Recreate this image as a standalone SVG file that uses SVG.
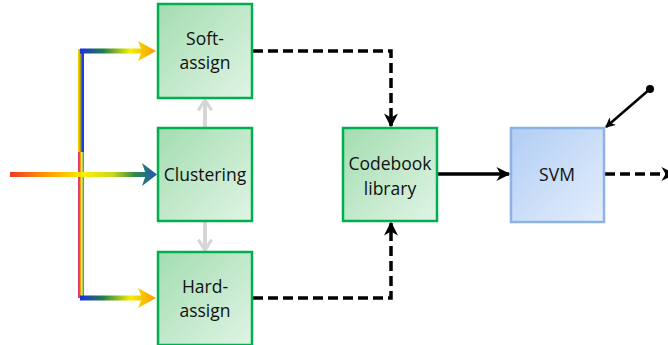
<svg xmlns="http://www.w3.org/2000/svg" width="668" height="345" viewBox="0 0 668 345">
<defs>
<linearGradient id="gGreen" x1="0" y1="0" x2="1" y2="1">
<stop offset="0" stop-color="#a3ddb0"/><stop offset="1" stop-color="#e0f4e5"/>
</linearGradient>
<linearGradient id="gBlue" x1="0" y1="0" x2="1" y2="1">
<stop offset="0" stop-color="#b1cdf5"/><stop offset="1" stop-color="#e4eefc"/>
</linearGradient>
<linearGradient id="gMain" gradientUnits="userSpaceOnUse" x1="10" y1="0" x2="157" y2="0">
<stop offset="0" stop-color="#ee3a2a"/><stop offset="0.25" stop-color="#ff9a00"/><stop offset="0.5" stop-color="#ffee00"/><stop offset="0.7" stop-color="#c8d820"/><stop offset="0.85" stop-color="#2f8a45"/><stop offset="1" stop-color="#1e55c0"/>
</linearGradient>
<linearGradient id="gBranch" gradientUnits="userSpaceOnUse" x1="80" y1="0" x2="157" y2="0">
<stop offset="0" stop-color="#1a2fd8"/><stop offset="0.3" stop-color="#1f7f4a"/><stop offset="0.65" stop-color="#f2f000"/><stop offset="1" stop-color="#ff9400"/>
</linearGradient>
<linearGradient id="gVTop" x1="0" y1="0" x2="1" y2="0">
<stop offset="0" stop-color="#e8d800"/><stop offset="0.3" stop-color="#ffa000"/><stop offset="0.55" stop-color="#2aa048"/><stop offset="0.75" stop-color="#1b3ae0"/><stop offset="1" stop-color="#7a18d8"/>
</linearGradient>
<linearGradient id="gVBot" x1="0" y1="0" x2="1" y2="0">
<stop offset="0" stop-color="#d63aa0"/><stop offset="0.2" stop-color="#f03030"/><stop offset="0.4" stop-color="#ff9a00"/><stop offset="0.6" stop-color="#f5ee20"/><stop offset="0.8" stop-color="#8ccf70"/><stop offset="1" stop-color="#3a70d0"/>
</linearGradient>
<marker id="ah" viewBox="0 0 10 10" refX="9" refY="5" markerWidth="4" markerHeight="4" orient="auto" markerUnits="strokeWidth">
<path d="M0,0 L10,5 L0,10 L3,5 Z" fill="#000"/>
</marker>
<marker id="ahGray" viewBox="0 0 10 10" refX="8" refY="5" markerWidth="4" markerHeight="4" orient="auto" markerUnits="strokeWidth">
<path d="M1.5,0.8 L8,5 L1.5,9.2" fill="none" stroke="#d6d6d6" stroke-width="2"/>
</marker>
<style>
.box{fill:url(#gGreen);stroke:#00b050;stroke-width:2.5}
.svm{fill:url(#gBlue);stroke:#8db3e2;stroke-width:2.5}
.t{font-family:"Open Sans","Liberation Sans",sans-serif;font-size:17.5px;fill:#111;text-anchor:middle}
.dash{fill:none;stroke:#000;stroke-width:3.5;stroke-dasharray:10,5}
.solid{fill:none;stroke:#000;stroke-width:3.5}
.gray{fill:none;stroke:#d6d6d6;stroke-width:4}
</style>
</defs>

<g id="connectors">
<rect x="78" y="49" width="6" height="103" fill="url(#gVTop)"/>
<rect x="78" y="152" width="6" height="146" fill="url(#gVBot)"/>
<rect x="10" y="172" width="136" height="5" fill="url(#gMain)"/>
<path d="M142,163 L157,174.5 L142,186 L146,174.5 Z" fill="url(#gMain)"/>
<rect x="80" y="48.5" width="63" height="5" fill="url(#gBranch)"/>
<path d="M138,41 L156,51 L138,61 L142,51 Z" fill="url(#gBranch)"/>
<rect x="80" y="295.5" width="63" height="5" fill="url(#gBranch)"/>
<path d="M138,288 L156,298 L138,308 L142,298 Z" fill="url(#gBranch)"/>
<path class="gray" d="M205,128 L205,100" marker-end="url(#ahGray)"/>
<path class="gray" d="M205,221 L205,250" marker-end="url(#ahGray)"/>
<path class="dash" d="M253,51 L391,51 L391,126" marker-end="url(#ah)"/>
<path class="dash" d="M253,298 L391,298 L391,223" marker-end="url(#ah)"/>
<path class="solid" d="M438,174 L509,174" marker-end="url(#ah)"/>
<path class="dash" d="M605,174 L674,174" marker-end="url(#ah)"/>
<circle cx="650" cy="89" r="4" fill="#000"/>
<path d="M650,89 L606,127" stroke="#000" stroke-width="2.5" fill="none" marker-end="url(#ah)"/>
</g>

<g id="soft-assign">
<rect class="box" x="158" y="4" width="94" height="94"/>
<text class="t" x="205" y="45">Soft-</text>
<text class="t" x="205" y="69">assign</text>
</g>
<g id="clustering">
<rect class="box" x="158" y="128" width="94" height="93"/>
<text class="t" x="205" y="181">Clustering</text>
</g>
<g id="hard-assign">
<rect class="box" x="158" y="252" width="94" height="93"/>
<text class="t" x="205" y="293">Hard-</text>
<text class="t" x="205" y="317">assign</text>
</g>
<g id="codebook">
<rect class="box" x="343" y="128" width="94" height="93"/>
<text class="t" x="390" y="170">Codebook</text>
<text class="t" x="390" y="195">library</text>
</g>
<g id="svm">
<rect class="svm" x="511" y="128" width="93" height="94"/>
<text class="t" x="557" y="181">SVM</text>
</g>
</svg>
